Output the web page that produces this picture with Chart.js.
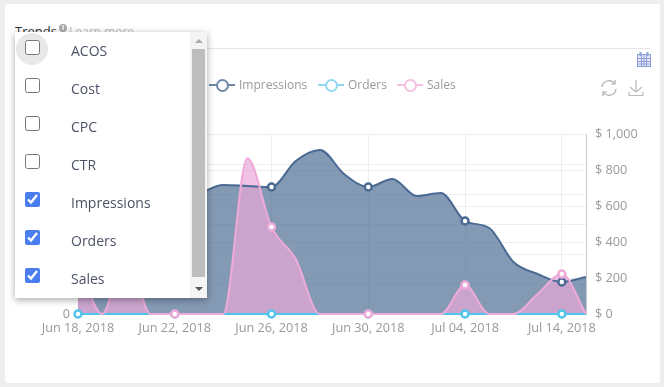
<!DOCTYPE html>
<html>
<head>
<meta charset="utf-8">
<title>Trends</title>
<script src="https://cdn.jsdelivr.net/npm/chart.js@4/dist/chart.umd.min.js"></script>
<style>
  html, body { margin: 0; padding: 0; background: #eeeeee; overflow: hidden; }
  body { width: 664px; height: 387px; position: relative; font-family: "Open Sans", sans-serif; }
  .card { position: absolute; left: 5px; top: 4px; width: 655px; height: 379px; background: #fff; border-radius: 3px; }
  #trendsChart { position: absolute; left: 0; top: 0; }
  .title { position: absolute; left: 15px; top: 22px; font-size: 13px; color: #333; }
  .info { position: absolute; left: 59px; top: 24px; width: 8px; height: 8px; border-radius: 50%; background: #aaa; color: #fff; font-size: 7px; line-height: 8px; text-align: center; font-weight: bold; }
  .learn { position: absolute; left: 69px; top: 23px; font-size: 12px; color: #bbb; }
  .rule { position: absolute; left: 15px; top: 48px; width: 635px; height: 1px; background: #e6e6e6; }
  .legend-item { position: absolute; top: 77px; height: 16px; font-size: 12px; line-height: 16px; color: #999; white-space: nowrap; }
  .legend-item i { position: absolute; left: 0; top: 7px; width: 26px; height: 2px; }
  .legend-item b { position: absolute; left: 7px; top: 2px; width: 9px; height: 9px; border: 2px solid; border-radius: 50%; background: #fff; }
  .legend-item span { position: absolute; left: 30px; top: 0; }
  .icon { position: absolute; }
  .menu { position: absolute; left: 15px; top: 32px; width: 192px; height: 266px; background: #fff; box-shadow: 0 2px 7px rgba(0,0,0,.35); }
  .row { position: absolute; left: 0; width: 177px; height: 38px; font-size: 14px; line-height: 38px; color: #4b5264; }
  .row span { position: absolute; left: 56px; top: 0; }
  .row input { position: absolute; left: 10px; top: 8px; width: 15px; height: 15px; margin: 0; accent-color: #4a7df0; }
  .halo { position: absolute; left: 1px; top: 1px; width: 32px; height: 32px; border-radius: 50%; background: #e8e8e8; }
  .track { position: absolute; right: 0; top: 0; width: 17px; height: 266px; background: #f4f4f4; }
  .thumb { position: absolute; left: 2px; top: 17px; width: 13px; height: 228px; background: #bdbdbd; }
  .up, .down { position: absolute; left: 5px; width: 0; height: 0; border-left: 4px solid transparent; border-right: 4px solid transparent; }
  .up { top: 7px; border-bottom: 4px solid #aaa; }
  .down { bottom: 7px; border-top: 4px solid #555; }
</style>
</head>
<body>
<div class="card"></div>
<div class="title">Trends</div>
<div class="info">i</div>
<div class="learn">Learn more</div>
<div class="rule"></div>
<canvas id="trendsChart" width="664" height="387"></canvas>

<div class="legend-item" style="left:209px"><i style="background:#7089ab"></i><b style="border-color:#7089ab"></b><span>Impressions</span></div>
<div class="legend-item" style="left:318px"><i style="background:#8fdaf0"></i><b style="border-color:#8fdaf0"></b><span>Orders</span></div>
<div class="legend-item" style="left:397px"><i style="background:#f4bfe2"></i><b style="border-color:#f4bfe2"></b><span>Sales</span></div>

<svg class="icon" style="left:637px;top:52px" width="14" height="15" viewBox="0 0 14 15" fill="none" stroke="#8f9fd6" stroke-width="1">
  <rect x="0.5" y="2.5" width="13" height="12" fill="#e6e9f7"/>
  <path d="M0 6.5h14M0 9.5h14M0 12h14M4.5 3v11M7 3v11M9.5 3v11"/>
  <path d="M3.5 0v4M10.5 0v4" stroke-width="2"/>
</svg>
<svg class="icon" style="left:600px;top:79px" width="18" height="18" viewBox="0 0 18 18" fill="none" stroke="#aaa" stroke-width="1.2">
  <path d="M2 8a7 7 0 0 1 12.5-3.5M16 10a7 7 0 0 1-12.5 3.5"/>
  <path d="M15 1v4h-4M3 17v-4h4"/>
</svg>
<svg class="icon" style="left:628px;top:79px" width="16" height="18" viewBox="0 0 16 18" fill="none" stroke="#bbb" stroke-width="1.2">
  <path d="M8 1v12M2 8l6 5 6-5M1 13v3.5h14V13"/>
</svg>

<div class="menu">
  <div class="row" style="top:0"><div class="halo"></div><input type="checkbox"><span>ACOS</span></div>
  <div class="row" style="top:38px"><input type="checkbox"><span>Cost</span></div>
  <div class="row" style="top:76px"><input type="checkbox"><span>CPC</span></div>
  <div class="row" style="top:114px"><input type="checkbox"><span>CTR</span></div>
  <div class="row" style="top:152px"><input type="checkbox" checked><span>Impressions</span></div>
  <div class="row" style="top:190px"><input type="checkbox" checked><span>Orders</span></div>
  <div class="row" style="top:228px"><input type="checkbox" checked><span>Sales</span></div>
  <div class="track"><div class="up"></div><div class="thumb"></div><div class="down"></div></div>
</div>

<script>
// Values, first few impressions/sales sit behind the dropdown so they are guesses
const categories = [
    'Jun 18, 2018', 'Jun 19, 2018', 'Jun 20, 2018', 'Jun 21, 2018', 'Jun 22, 2018', 'Jun 23, 2018',
    'Jun 24, 2018', 'Jun 25, 2018', 'Jun 26, 2018', 'Jun 27, 2018', 'Jun 28, 2018', 'Jun 29, 2018',
    'Jun 30, 2018', 'Jul 01, 2018', 'Jul 02, 2018', 'Jul 03, 2018', 'Jul 04, 2018', 'Jul 05, 2018',
    'Jul 11, 2018', 'Jul 13, 2018', 'Jul 14, 2018', 'Jul 15, 2018'
];
const impressions = [3200, 3500, 3700, 3600, 3700, 4000, 4300, 4267, 4233, 5100, 5467, 4667, 4233, 4500, 3933, 4033, 3100, 2867, 1733, 1333, 1067, 1233];
const orders = [0, 0, 0, 0, 0, 0, 0, 0, 0, 0, 0, 0, 0, 0, 0, 0, 0, 0, 0, 0, 0, 0];
const sales = [300, 0, 350, 0, 0, 0, 0, 865, 483, 305, 0, 0, 0, 0, 0, 0, 161, 0, 0, 111, 222, 0];
const leftTicks = [0, 1000, 2000, 3000, 4000, 5000, 6000];
const rightTicks = [0, 200, 400, 600, 800, 1000];

// only every 4th day gets a label, a dot and a vertical grid line
const labelEvery = 4;
const dotRadius = ctx => (ctx.dataIndex % labelEvery === 0 ? 3.5 : 0);

new Chart(document.getElementById('trendsChart'), {
    type: 'line',
    data: {
        labels: categories,
        datasets: [
            {
                label: 'Impressions',
                data: impressions,
                yAxisID: 'yLeft',
                borderColor: '#4a6a94',
                backgroundColor: 'rgba(74,104,144,0.68)',
                pointBorderColor: '#4a6a94',
                fill: true,
                clip: false,
                order: 3
            },
            {
                label: 'Orders',
                data: orders,
                yAxisID: 'yRight',
                borderColor: '#50c4ea',
                backgroundColor: 'rgba(88,196,232,0.3)',
                pointBorderColor: '#50c4ea',
                fill: true,
                clip: false,
                order: 2
            },
            {
                label: 'Sales',
                data: sales,
                yAxisID: 'yRight',
                borderColor: '#eeaad8',
                backgroundColor: 'rgba(233,170,218,0.7)',
                pointBorderColor: '#eeaad8',
                fill: true,
                clip: false,
                order: 1
            }
        ]
    },
    options: {
        responsive: false,
        animation: false,
        layout: { padding: { top: 134, left: 20 } },
        plugins: {
            legend: { display: false },
            tooltip: { enabled: false },
            // all fills first so the lines and dots stay on top of the pink area
            filler: { drawTime: 'beforeDatasetsDraw' }
        },
        datasets: {
            line: {
                cubicInterpolationMode: 'monotone',
                borderWidth: 2,
                pointRadius: dotRadius,
                pointBackgroundColor: '#fff',
                pointBorderWidth: 2.5
            }
        },
        scales: {
            x: {
                offset: false,
                afterFit: scale => { scale.height = 73; },
                grid: {
                    color: ctx => (ctx.index % labelEvery === 0 ? '#eeeeee' : 'transparent'),
                    drawTicks: false
                },
                border: { display: false },
                ticks: {
                    autoSkip: false,
                    maxRotation: 0,
                    padding: 7,
                    color: '#999',
                    font: { family: 'Open Sans', size: 12.7 },
                    callback(value, index) {
                        return index % labelEvery === 0 ? categories[index] : '';
                    }
                }
            },
            yLeft: {
                position: 'left',
                min: 0,
                max: 6000,
                afterFit: scale => { scale.width = 58; },
                afterBuildTicks: scale => { scale.ticks = leftTicks.map(value => ({ value })); },
                grid: { color: '#eeeeee', drawTicks: false },
                border: { display: false },
                ticks: {
                    padding: 8,
                    color: '#999',
                    font: { family: 'Open Sans', size: 12.7 },
                    callback: value => value.toLocaleString('en-US')
                }
            },
            yRight: {
                position: 'right',
                min: 0,
                max: 1000,
                afterFit: scale => { scale.width = 78; },
                afterBuildTicks: scale => { scale.ticks = rightTicks.map(value => ({ value })); },
                grid: { color: '#eeeeee', drawTicks: false },
                border: { display: true, color: '#c8c8c8' },
                ticks: {
                    padding: 9,
                    color: '#999',
                    font: { family: 'Open Sans', size: 12.7 },
                    callback: value => '$ ' + value.toLocaleString('en-US')
                }
            }
        }
    }
});
</script>
</body>
</html>
